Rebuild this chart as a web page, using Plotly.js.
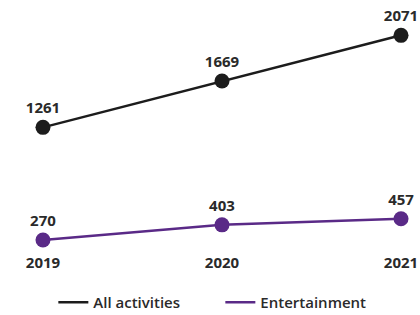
<!DOCTYPE html>
<html>
<head>
<meta charset="utf-8">
<script src="https://cdn.plot.ly/plotly-3.0.1.min.js"></script>
<style>html,body{margin:0;padding:0;background:#fff;}#chart{width:420px;height:315px;}</style>
</head>
<body>
<div id="chart"></div>
<script>
const years = [2019, 2020, 2021];
const yearLabels = ["2019", "2020", "2021"];
const allActivities = [1261, 1669, 2071];
const entertainment = [270, 403, 457];
const seriesNames = ["All activities", "Entertainment"];
const seriesColors = ["#1c1c1c", "#5a2a87"];

const labelFont = {family: "Open Sans, sans-serif", size: 15, color: "#2a2a2a", weight: 700};

const traces = [];
[allActivities, entertainment].forEach((vals, i) => {
  traces.push({
    x: years, y: vals, name: seriesNames[i], mode: "lines",
    line: {color: seriesColors[i], width: 2.5},
    hoverinfo: "skip", showlegend: true, legendrank: i + 1
  });
  traces.push({
    x: years, y: vals, name: seriesNames[i], mode: "markers+text",
    marker: {color: seriesColors[i], size: 15},
    text: vals.map(String), textposition: "top center",
    textfont: labelFont, cliponaxis: false, hoverinfo: "skip", showlegend: false
  });
});

const layout = {
  width: 420, height: 315,
  margin: {l: 0, r: 0, t: 0, b: 63, autoexpand: false},
  paper_bgcolor: "#fff", plot_bgcolor: "#fff",
  showlegend: true,
  legend: {
    orientation: "h", x: 0.127, xanchor: "left", y: -0.2, yanchor: "middle",
    font: {family: "Open Sans, sans-serif", size: 15, color: "#2a2a2a", weight: 600},
    itemwidth: 30, traceorder: "normal",
    entrywidth: 122, entrywidthmode: "pixels"
  },
  xaxis: {
    range: [2018.76, 2021.106], tickvals: years, ticktext: yearLabels,
    showgrid: false, zeroline: false, showline: false, ticks: "",
    tickfont: labelFont, fixedrange: true
  },
  yaxis: {
    range: [164, 2382], visible: false, showgrid: false, zeroline: false, fixedrange: true
  }
};

Plotly.newPlot("chart", traces, layout, {displayModeBar: false, staticPlot: true});
</script>
</body>
</html>
